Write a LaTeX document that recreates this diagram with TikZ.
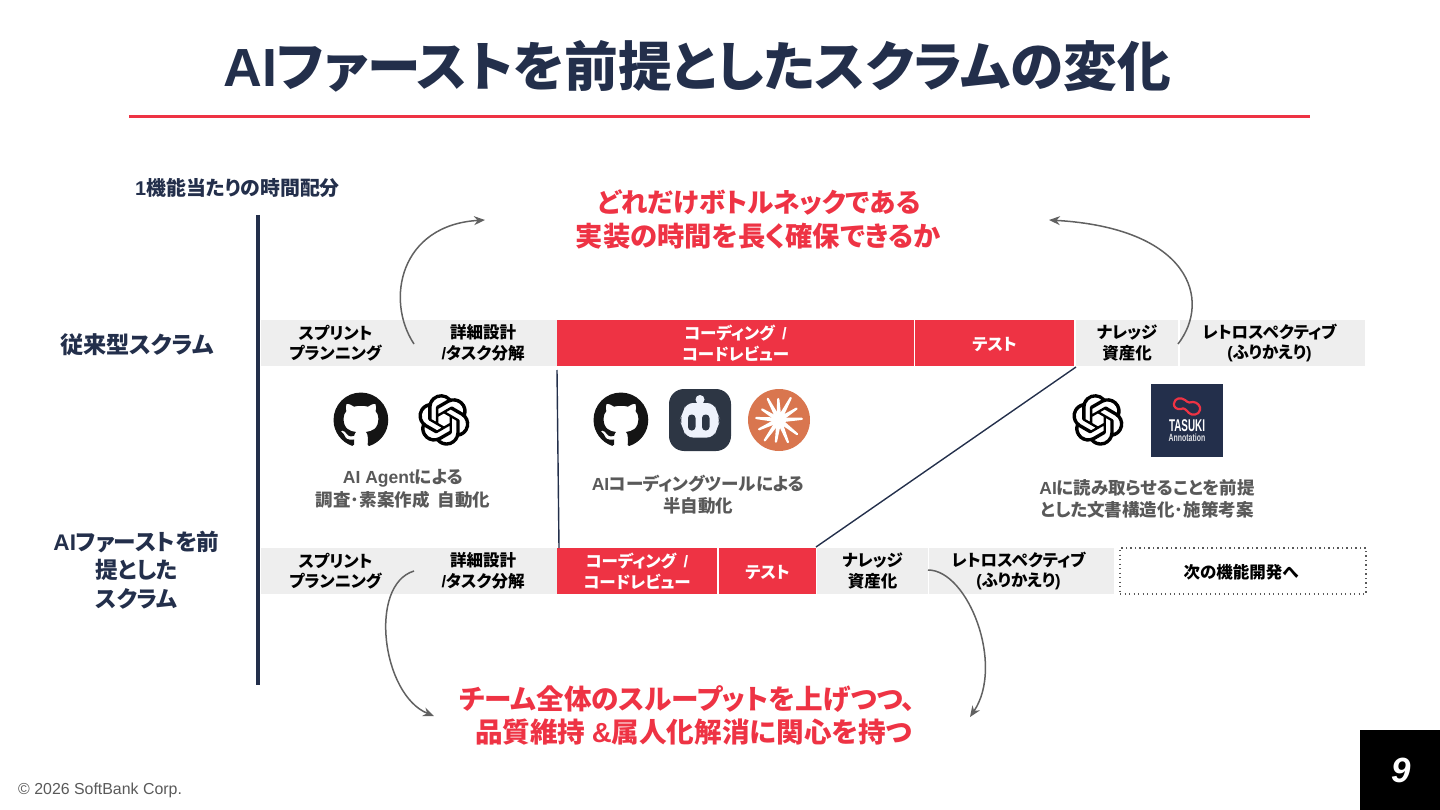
\documentclass[tikz,border=0pt]{standalone}
\usepackage{fontspec}
\usetikzlibrary{svg.path,arrows.meta}
\setmainfont[RawFeature=+palt]{Noto Sans CJK JP}
\newfontfamily\latfont{Liberation Sans}
\newcommand{\lat}[1]{{\latfont #1}}
\definecolor{navy}{HTML}{232F4B}
\definecolor{sbred}{HTML}{EE3344}
\definecolor{bargray}{HTML}{EEEEEE}
\definecolor{midgray}{HTML}{595959}
\definecolor{copilotbg}{HTML}{2D3644}
\definecolor{copilotface}{HTML}{EEF2FB}
\definecolor{claude}{HTML}{D9764F}
\newcommand{\fs}[1]{\fontsize{#1}{#1}\selectfont}
\newcommand{\ghicon}[2]{%
\begin{scope}[shift={(#1,#2)},xscale=3.42,yscale=-3.42,xshift=-8bp,yshift=-8bp]
\fill[black!92] svg {M 8 0 C 3.58 0 0 3.58 0 8 c 0 3.54 2.29 6.53 5.47 7.59 c 0.4 0.07 0.55 -0.17 0.55 -0.38 c 0 -0.19 -0.01 -0.82 -0.01 -1.49 c -2.01 0.37 -2.53 -0.49 -2.69 -0.94 c -0.09 -0.23 -0.48 -0.94 -0.82 -1.13 c -0.28 -0.15 -0.68 -0.52 -0.01 -0.53 c 0.63 -0.01 1.08 0.58 1.23 0.82 c 0.72 1.21 1.87 0.87 2.33 0.66 c 0.07 -0.52 0.28 -0.87 0.51 -1.07 c -1.78 -0.2 -3.64 -0.89 -3.64 -3.95 c 0 -0.87 0.31 -1.59 0.82 -2.15 c -0.08 -0.2 -0.36 -1.02 0.08 -2.12 c 0 0 0.67 -0.21 2.2 0.82 c 0.64 -0.18 1.32 -0.27 2 -0.27 c 0.68 0 1.36 0.09 2 0.27 c 1.53 -1.04 2.2 -0.82 2.2 -0.82 c 0.44 1.1 0.16 1.92 0.08 2.12 c 0.51 0.56 0.82 1.27 0.82 2.15 c 0 3.07 -1.87 3.75 -3.65 3.95 c 0.29 0.25 0.54 0.73 0.54 1.48 c 0 1.07 -0.01 1.93 -0.01 2.2 c 0 0.21 0.15 0.46 0.55 0.38 C 13.71 14.53 16 11.53 16 8 c 0 -4.42 -3.58 -8 -8 -8 z};
\end{scope}}
\newcommand{\knoticon}[2]{%
\begin{scope}[shift={(#1,#2)},xscale=2.15,yscale=-2.15,xshift=-12bp,yshift=-12bp]
\fill[black] svg {M 22.2819 9.8211 a 5.9847 5.9847 0 0 0 -0.5157 -4.9108 a 6.0462 6.0462 0 0 0 -6.5098 -2.9 A 6.0651 6.0651 0 0 0 4.9807 4.1818 a 5.9847 5.9847 0 0 0 -3.9977 2.9 a 6.0462 6.0462 0 0 0 0.7427 7.0966 a 5.98 5.98 0 0 0 0.511 4.9107 a 6.051 6.051 0 0 0 6.5146 2.9001 A 5.9847 5.9847 0 0 0 13.2599 24 a 6.0557 6.0557 0 0 0 5.7718 -4.2058 a 5.9894 5.9894 0 0 0 3.9977 -2.9001 a 6.0557 6.0557 0 0 0 -0.7475 -7.0729 z
M 13.2599 22.4292 a 4.4755 4.4755 0 0 1 -2.8764 -1.0408 l 0.1419 -0.0804 l 4.7783 -2.7582 l 0.3927 -0.6813 v -6.7369 l 2.02 1.1686 l 0.038 0.052 v 5.5826 a 4.504 4.504 0 0 1 -4.4945 4.4944 z
M 3.5992 18.3038 a 4.4708 4.4708 0 0 1 -0.5346 -3.0137 l 0.142 0.0852 l 4.783 2.7582 l 0.7806 0 l 5.8428 -3.3685 v 2.3324 l -0.0332 0.0615 L 9.74 19.9502 a 4.4992 4.4992 0 0 1 -6.1408 -1.6464 z
M 2.3408 7.8956 a 4.485 4.485 0 0 1 2.3655 -1.9728 V 11.6 l 0.3879 0.6765 l 5.8144 3.3543 l -2.0201 1.1685 l -0.071 0 l -4.8303 -2.7865 A 4.504 4.504 0 0 1 2.3408 7.872 z
M 18.9371 11.7514 L 13.1038 8.364 L 15.1192 7.2 l 0.071 0 l 4.8303 2.7913 a 4.4944 4.4944 0 0 1 -0.6765 8.1042 v -5.6772 l -0.407 -0.667 z
M 20.9478 8.7283 l -0.142 -0.0852 l -4.7735 -2.7818 l -0.7854 0 L 9.409 9.2297 V 6.8974 l 0.0284 -0.0615 l 4.8303 -2.7866 a 4.4992 4.4992 0 0 1 6.6802 4.66 z
M 8.3065 12.863 l -2.02 -1.1638 l -0.038 -0.0567 V 6.0742 a 4.4992 4.4992 0 0 1 7.3757 -3.4537 l -0.142 0.0805 L 8.704 5.459 l -0.3927 0.6813 z
M 9.4041 10.4976 l 2.602 -1.4998 l 2.6069 1.4998 v 2.9994 l -2.5974 1.4997 l -2.6067 -1.4997 z};
\end{scope}}
\tikzset{
 seg/.style={minimum height=46pt,inner sep=0pt,outer sep=0pt,align=center,font=\fs{16.5}\bfseries\linespread{1.25}\selectfont,execute at begin node={\rule{0pt}{17pt}}},
 graybar/.style={seg,fill=bargray,text=black},
 redbar/.style={seg,fill=sbred,text=white},
 nextbox/.style={seg,draw=black!65,dash pattern=on 1.3pt off 3.2pt,line width=1.3pt,text=black},
 rowlabel/.style={font=\fs{23.2}\bfseries,text=navy,align=center,inner sep=0pt},
 redmsg/.style={font=\fs{27.6}\bfseries,text=sbred,inner sep=0pt},
 graynote/.style={font=\fs{17.5}\bfseries,text=midgray,inner sep=0pt},
 guide/.style={navy,line width=1.4pt},
 curvearrow/.style={black!62,line width=1.5pt,-{Stealth[length=11pt,width=9pt]}},
}
\begin{document}
\begin{tikzpicture}[x=1pt,y=-1pt]
\useasboundingbox (0,0) rectangle (1440,810);
% title
\node[font=\fs{53.7}\bfseries,text=navy,inner sep=0pt] (title) at (697,66) {\lat{AI}ファーストを前提としたスクラムの変化};
\coordinate (ruleL) at (129,116.5); \coordinate (ruleR) at (1310,116.5);
\draw[sbred,line width=3pt] (ruleL) -- (ruleR);
% axis
\coordinate (axisT) at (258,215); \coordinate (axisB) at (258,685);
\node[font=\fs{19.9}\bfseries,text=navy,inner sep=0pt] (axislabel) at (237.5,188) {\lat{1}機能当たりの時間配分};
\node[rowlabel] (row1) at (137,345) {従来型スクラム};
\node[rowlabel,font=\fs{22.6}\bfseries\linespread{1.27}\selectfont] (row2) at (136.5,570) {\lat{AI}ファーストを前\\提とした\\スクラム};
% top row
\node[graybar,minimum width=149pt] (a1) at (335.5,343) {スプリント\\プランニング};
\node[graybar,minimum width=148pt] (a2) at (483,343) {詳細設計\\\lat{/}タスク分解};
\node[redbar,minimum width=357pt] (a3) at (735.5,343) {コーディング\ \ \lat{/}\\コードレビュー};
\node[redbar,minimum width=159pt] (a4) at (994.5,343) {テスト};
\node[graybar,minimum width=102pt] (a5) at (1127,343) {ナレッジ\\資産化};
\node[graybar,minimum width=185pt] (a6) at (1272.5,343) {\hspace*{-6pt}レトロスペクティブ\\\hspace*{-6pt}\lat{(}ふりかえり\lat{)}};
% bottom row
\node[graybar,minimum width=149pt] (b1) at (335.5,571) {スプリント\\プランニング};
\node[graybar,minimum width=148pt] (b2) at (483,571) {詳細設計\\\lat{/}タスク分解};
\node[redbar,minimum width=160pt] (b3) at (637,571) {コーディング\ \ \lat{/}\\コードレビュー};
\node[redbar,minimum width=97pt] (b4) at (767.5,571) {テスト};
\node[graybar,minimum width=111pt] (b5) at (872.5,571) {ナレッジ\\資産化};
\node[graybar,minimum width=185pt] (b6) at (1021.5,571) {\hspace*{-6pt}レトロスペクティブ\\\hspace*{-6pt}\lat{(}ふりかえり\lat{)}};
\node[nextbox,minimum width=246pt] (b7) at (1243,571) {\hspace*{-4pt}次の機能開発へ};
\draw[navy,line width=4pt] (axisT) -- (axisB);
% messages
\node[redmsg,font=\fs{26.6}\bfseries] (m1) at (759,202) {どれだけボトルネックである};
\node[redmsg,font=\fs{27.3}\bfseries] (m2) at (758,236) {実装の時間を長く確保できるか};
\node[redmsg] (m3) at (687.5,699) {チーム全体のスループットを上げつつ、};
\node[redmsg] (m4) at (693.5,732) {品質維持 \lat{\&}属人化解消に関心を持つ};
% guides
\coordinate (g1) at (557,370); \coordinate (g2) at (559,548);
\coordinate (g3) at (1076,367); \coordinate (g4) at (816,547);
\draw[guide] (g1) -- (g2);
\draw[guide] (g3) -- (g4);
% curved arrows
\coordinate (c1s) at (414,344); \coordinate (c1e) at (485,220);
\coordinate (c2s) at (1178,344); \coordinate (c2e) at (1049,220);
\coordinate (c3s) at (414,571); \coordinate (c3e) at (434,716);
\coordinate (c4s) at (928,570); \coordinate (c4e) at (970,717);
\draw[curvearrow] (c1s) .. controls (385,300) and (400,225) .. (c1e);
\draw[curvearrow] (c2s) .. controls (1212,300) and (1190,228) .. (c2e);
\draw[curvearrow] (c3s) .. controls (368,585) and (382,695) .. (c3e);
\draw[curvearrow] (c4s) .. controls (968,570) and (1005,665) .. (c4e);
% icons
\ghicon{361}{420}
\knoticon{444}{420}
\ghicon{621}{420}
\fill[copilotbg,rounded corners=15pt] (669,389) rectangle (731,451);
\fill[copilotface] (700,399.5) circle (4.5);
\fill[copilotface,rounded corners=7pt] (686,403) -- (714,403) -- (717,413) -- (720.5,420) -- (717,428) -- (714,437.5) -- (686,437.5) -- (683,428) -- (679.5,420) -- (683,413) -- cycle;
\fill[copilotbg,rounded corners=3.5pt] (688,414.5) rectangle (695.5,430.5);
\fill[copilotbg,rounded corners=3.5pt] (702,414.5) rectangle (709.5,430.5);
\fill[claude] (779,420) circle (31);
\foreach \ang/\len in {3/23,33/21,62/25,92/21,118/24,148/20,175/23,205/22,235/25,262/22,292/24,322/23}{
 \fill[white,rotate around={\ang:(779,420)}] (781,417.6) -- (779+\len,418.9) -- (779+\len+1,420) -- (779+\len,421.1) -- (781,422.4) -- cycle;
}
\fill[white] (779,420) circle (6.5);
\knoticon{1098}{420}
\fill[navy] (1151,384) rectangle (1223,457);
\draw[sbred,line width=2.2pt,line join=round] (1174,403) .. controls (1175,398) and (1181,397) .. (1185,400) .. controls (1188,403) and (1191,403) .. (1193,402) .. controls (1197,402) and (1201,406) .. (1200,410) .. controls (1199,415) and (1192,416) .. (1189,413) .. controls (1186,410) and (1184,407) .. (1181,409) .. controls (1177,410) and (1173,407) .. (1174,403);
\node[font=\latfont\bfseries\fontsize{17}{17}\selectfont,text=white,inner sep=0pt,xscale=.58] (tasuki) at (1187,425.5) {TASUKI};
\node[font=\latfont\bfseries\fontsize{10.5}{10.5}\selectfont,text=white!85!navy,inner sep=0pt,xscale=.66] (annot) at (1187,437.5) {Annotation};
% notes
\node[graynote] (n1a) at (403,478) {\lat{AI Agent}による};
\node[graynote] (n1b) at (403,500) {調査･素案作成\ \ 自動化};
\node[graynote] (n2a) at (698,484) {\lat{AI}コーディングツールによる};
\node[graynote] (n2b) at (698,506) {半自動化};
\node[graynote] (n3a) at (1147,488) {\lat{AI}に読み取らせることを前提};
\node[graynote] (n3b) at (1147,510) {とした文書構造化･施策考案};
% footer
\node[font=\latfont\fontsize{15.9}{15.9}\selectfont,text=midgray,anchor=west,inner sep=0pt] (copy) at (18,790.5) {© 2026 SoftBank Corp.};
\node[fill=black,minimum width=80pt,minimum height=80pt,inner sep=0pt,outer sep=0pt,text=white,font=\latfont\bfseries\itshape\fontsize{35}{35}\selectfont] (page) at (1400,770) {\hspace*{3pt}9};
\end{tikzpicture}
\end{document}
